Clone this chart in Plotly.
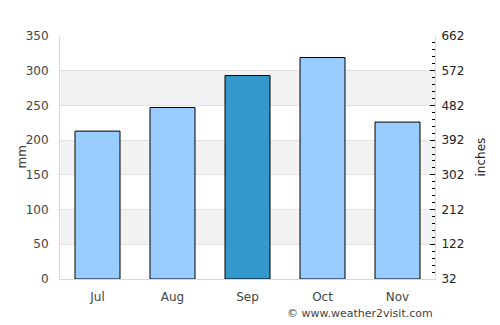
import plotly.graph_objects as go

months = ["Jul", "Aug", "Sep", "Oct", "Nov"]
rain_mm = [213, 247, 293, 319, 226]
highlight = "Sep"
left_ticks = [0, 50, 100, 150, 200, 250, 300, 350]
right_ticks = [32, 122, 212, 302, 392, 482, 572, 662]

colors = ["#3399cc" if m == highlight else "#99ccff" for m in months]

fig = go.Figure()
fig.add_trace(go.Bar(
    x=months, y=rain_mm, marker=dict(color=colors, line=dict(color="black", width=1)),
    width=0.6, hoverinfo="skip", showlegend=False,
))
fig.add_trace(go.Scatter(x=months, y=[None]*len(months), yaxis="y2", showlegend=False, hoverinfo="skip"))

shapes = []
for lo in [50, 150, 250]:
    shapes.append(dict(type="rect", xref="paper", x0=0, x1=1, yref="y", y0=lo, y1=lo + 50,
                       fillcolor="#f2f2f2", line=dict(width=0), layer="below"))

fig.update_layout(
    width=500, height=325,
    margin=dict(l=60, r=65, t=36, b=46),
    paper_bgcolor="white", plot_bgcolor="white",
    font=dict(family="DejaVu Sans", size=12, color="#444"),
    bargap=0.4,
    shapes=shapes,
    xaxis=dict(showgrid=False, showline=True, linecolor="#d8d8d8", linewidth=1,
               ticks="", ticklabelstandoff=7, tickfont=dict(size=12, color="#444"), fixedrange=True),
    yaxis=dict(range=[0, 350], tickvals=left_ticks, showgrid=True, gridcolor="#e2e2e2", gridwidth=1,
               showline=True, linecolor="#d8d8d8", linewidth=1, zeroline=False,
               ticks="", ticklabelstandoff=8, tickfont=dict(size=12, color="#444"), automargin=False),
    yaxis2=dict(overlaying="y", side="right", range=[32, 662], tickmode="array", tickvals=right_ticks,
                showgrid=False, zeroline=False, showline=True, linecolor="#d8d8d8", linewidth=1,
                ticks="inside", ticklen=5, tickcolor="black", tickwidth=1,
                minor=dict(tickmode="linear", tick0=32, dtick=18, ticks="inside", ticklen=3,
                           tickcolor="black", tickwidth=1, showgrid=False),
                ticklabelstandoff=3, tickfont=dict(size=12, color="#222"), automargin=False),
    annotations=[
        dict(text="© www.weather2visit.com", xref="paper", yref="paper", x=1, y=0,
             xanchor="right", yanchor="top", yshift=-26, showarrow=False,
             font=dict(size=11, color="#444")),
        dict(text="mm", xref="paper", yref="paper", x=(21 - 60) / 375, y=0.5, textangle=-90,
             xanchor="center", yanchor="middle", showarrow=False, font=dict(size=12, color="#444")),
        dict(text="inches", xref="paper", yref="paper", x=(480 - 60) / 375, y=0.5, textangle=-90,
             xanchor="center", yanchor="middle", showarrow=False, font=dict(size=12, color="#222")),
    ],
)

fig.write_html("out.html", config={"displayModeBar": False})
